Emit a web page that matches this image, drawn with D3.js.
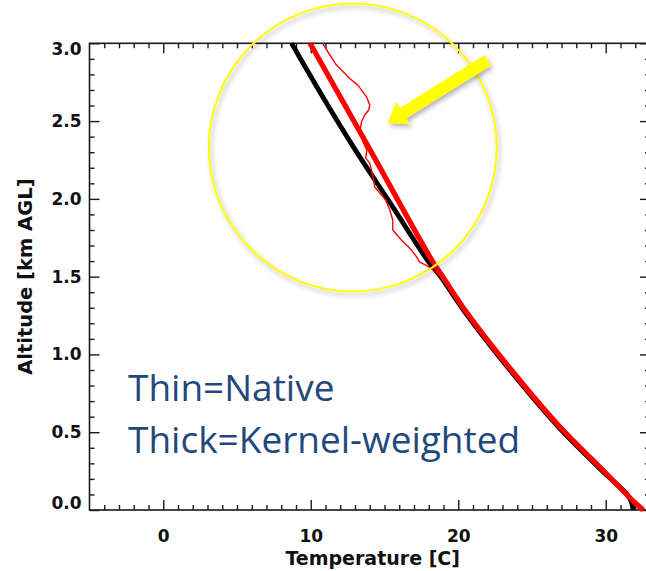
<!DOCTYPE html>
<html>
<head>
<meta charset="utf-8">
<script src="https://cdn.jsdelivr.net/npm/d3@7"></script>
<style>
  body { margin: 0; background: #fff; }
  svg { display: block; }
</style>
</head>
<body>
<div id="chart"></div>
<script>
// temperature profiles, altitude in km AGL and temperature in C

// black thick profile
var blackAlt  = [0.0, 0.08, 0.257, 0.533, 0.9, 1.266, 1.5, 1.607, 1.95, 2.31, 2.65, 3.0];
var blackTemp = [31.85, 31.6, 29.7, 26.8, 23.5, 20.5, 18.8, 17.9, 15.55, 13.05, 10.85, 8.7];

// red thick profile (kernel-weighted)
var thickAlt  = [0.0, 0.045, 0.257, 0.533, 0.9, 1.266, 1.5, 1.607, 2.31, 3.0];
var thickTemp = [32.55, 32.0, 29.8, 26.9, 23.6, 20.6, 18.95, 18.2, 14.05, 9.95];

// red thin profile (native)
var thinAlt  = [0.0, 0.045, 0.257, 0.533, 0.9, 1.266, 1.5, 1.53, 1.568, 1.594, 1.628, 1.671, 1.735,
                1.8, 1.864, 1.928, 1.992, 2.076, 2.153, 2.23, 2.262, 2.314, 2.367, 2.453, 2.496,
                2.539, 2.571, 2.603, 2.656, 2.731, 2.774, 2.828, 2.86, 2.946, 3.0];
var thinTemp = [32.5, 32.0, 29.75, 26.85, 23.55, 20.55, 18.85, 18.47, 17.93, 17.39, 17.17, 16.83, 16.15,
                15.56, 15.56, 15.36, 15.08, 14.34, 14.2, 14.0, 13.73, 13.8, 13.53, 13.37, 13.44,
                13.66, 13.93, 14.0, 13.78, 13.19, 12.64, 12.08, 11.74, 11.15, 10.81];

// axis ticks
var xMajor = [0, 10, 20, 30];
var yMajor = [0, 0.5, 1.0, 1.5, 2.0, 2.5, 3.0];

// annotation (data units)
var circleCenter = [12.85, 2.33];
var circleRadiusT = 9.76;
var arrowTail = [22.0, 2.89];
var arrowTip = [15.22, 2.49];
var noteLines = ["Thin=Native", "Thick=Kernel-weighted"];

var svgWidth = 646;
var svgHeight = 571;

var margin = { top: 43.3, left: 89.5, bottom: 61, right: -4 };
var width = svgWidth - margin.left - margin.right;
var height = svgHeight - margin.top - margin.bottom;

var svg = d3.select("#chart")
    .append("svg")
    .attr("width", svgWidth)
    .attr("height", svgHeight);

var defs = svg.append("defs");
var shadow = defs.append("filter")
    .attr("id", "shadow")
    .attr("x", "-20%").attr("y", "-20%")
    .attr("width", "140%").attr("height", "140%");
shadow.append("feDropShadow")
    .attr("dx", 2).attr("dy", 3)
    .attr("stdDeviation", 2.5)
    .attr("flood-color", "#000")
    .attr("flood-opacity", 0.3);

var chart = svg.append("g")
    .attr("transform", `translate(${margin.left}, ${margin.top})`);

// scales
var x = d3.scaleLinear().domain([-5, 33]).range([0, width]);
var y = d3.scaleLinear().domain([0, 3]).range([height, 0]);

var xMinor = d3.range(-4, 34).filter(function(d) { return d % 10 !== 0; });
var yMinor = d3.range(1, 30).map(function(d) { return d / 10; }).filter(function(d) { return Math.round(d * 10) % 5 !== 0; });

function styleAxis(g) {
    g.select(".domain").remove();
    g.selectAll("line").attr("stroke", "#1a1a1a").attr("stroke-width", 1.4);
    g.selectAll("text")
        .attr("fill", "#111")
        .style("font-family", "'DejaVu Sans', sans-serif")
        .style("font-weight", "bold")
        .style("font-size", "17px");
}

// bottom axis
chart.append("g")
    .attr("transform", `translate(0, ${height})`)
    .call(d3.axisBottom(x).tickValues(xMinor).tickSize(-5).tickFormat(""))
    .call(styleAxis);
chart.append("g")
    .attr("transform", `translate(0, ${height})`)
    .call(d3.axisBottom(x).tickValues(xMajor).tickSize(-10).tickPadding(20).tickFormat(d3.format("d")))
    .call(styleAxis);

// top axis
chart.append("g")
    .call(d3.axisTop(x).tickValues(xMinor).tickSize(-5).tickFormat(""))
    .call(styleAxis);
chart.append("g")
    .call(d3.axisTop(x).tickValues(xMajor).tickSize(-10).tickFormat(""))
    .call(styleAxis);

// left axis
chart.append("g")
    .call(d3.axisLeft(y).tickValues(yMinor).tickSize(-5).tickFormat(""))
    .call(styleAxis);
var yAxisG = chart.append("g")
    .call(d3.axisLeft(y).tickValues(yMajor).tickSize(-10).tickPadding(8).tickFormat(d3.format(".1f")))
    .call(styleAxis);
// end labels pulled inside the frame
yAxisG.selectAll(".tick text")
    .attr("transform", function(d) {
        if (d === 3) return "translate(0, 6)";
        if (d === 0) return "translate(0, -7)";
        return null;
    });

// right axis
chart.append("g")
    .attr("transform", `translate(${width}, 0)`)
    .call(d3.axisRight(y).tickValues(yMinor).tickSize(-5).tickFormat(""))
    .call(styleAxis);
chart.append("g")
    .attr("transform", `translate(${width}, 0)`)
    .call(d3.axisRight(y).tickValues(yMajor).tickSize(-10).tickFormat(""))
    .call(styleAxis);

// frame
chart.append("rect")
    .attr("width", width)
    .attr("height", height)
    .attr("fill", "none")
    .attr("stroke", "#1a1a1a")
    .attr("stroke-width", 1.6);

// profile lines
function profile(alts, temps) {
    return alts.map(function(a, i) { return { alt: a, temp: temps[i] }; });
}

var smoothLine = d3.line()
    .x(function(d) { return x(d.temp); })
    .y(function(d) { return y(d.alt); })
    .curve(d3.curveCatmullRom);

var rawLine = d3.line()
    .x(function(d) { return x(d.temp); })
    .y(function(d) { return y(d.alt); });

chart.append("path")
    .datum(profile(blackAlt, blackTemp))
    .attr("d", smoothLine)
    .attr("fill", "none")
    .attr("stroke", "#000")
    .attr("stroke-width", 4.8);

chart.append("path")
    .datum(profile(thinAlt, thinTemp))
    .attr("d", rawLine)
    .attr("fill", "none")
    .attr("stroke", "#ff0000")
    .attr("stroke-width", 1.4)
    .attr("stroke-linejoin", "round");

chart.append("path")
    .datum(profile(thickAlt, thickTemp))
    .attr("d", smoothLine)
    .attr("fill", "none")
    .attr("stroke", "#ff0000")
    .attr("stroke-width", 5.2);

// axis titles
chart.append("text")
    .attr("x", x(14.2))
    .attr("y", height + 55)
    .attr("text-anchor", "middle")
    .style("font-family", "'DejaVu Sans', sans-serif")
    .style("font-weight", "bold")
    .style("font-size", "19px")
    .attr("fill", "#111")
    .text("Temperature [C]");

chart.append("text")
    .attr("transform", `translate(${32 - margin.left}, ${y(1.5)}) rotate(-90)`)
    .attr("text-anchor", "middle")
    .style("font-family", "'DejaVu Sans', sans-serif")
    .style("font-weight", "bold")
    .style("font-size", "19.5px")
    .attr("fill", "#111")
    .text("Altitude [km AGL]");

// yellow circle
var r = x(circleRadiusT) - x(0);
chart.append("circle")
    .attr("cx", x(circleCenter[0]))
    .attr("cy", y(circleCenter[1]))
    .attr("r", r)
    .attr("fill", "none")
    .attr("stroke", "#ffff00")
    .attr("stroke-width", 2)
    .attr("filter", "url(#shadow)");

// yellow arrow
var tx = x(arrowTail[0]), ty = y(arrowTail[1]);
var hx = x(arrowTip[0]), hy = y(arrowTip[1]);
var len = Math.hypot(hx - tx, hy - ty);
var ux = (hx - tx) / len, uy = (hy - ty) / len;
var px = -uy, py = ux;
var shaftW = 12, headW = 26, headL = 18;
var bx = hx - ux * headL, by = hy - uy * headL;
var arrowPts = [
    [tx + px * shaftW / 2, ty + py * shaftW / 2],
    [bx + px * shaftW / 2, by + py * shaftW / 2],
    [bx + px * headW / 2, by + py * headW / 2],
    [hx, hy],
    [bx - px * headW / 2, by - py * headW / 2],
    [bx - px * shaftW / 2, by - py * shaftW / 2],
    [tx - px * shaftW / 2, ty - py * shaftW / 2]
];
chart.append("polygon")
    .attr("points", arrowPts.map(function(p) { return p.join(","); }).join(" "))
    .attr("fill", "#ffff00")
    .attr("filter", "url(#shadow)");

// note text
chart.selectAll(".note")
    .data(noteLines)
    .enter()
    .append("text")
    .attr("class", "note")
    .attr("x", 128 - margin.left)
    .attr("y", function(d, i) { return 401.5 - margin.top + i * 51.5; })
    .style("font-family", "'Open Sans', sans-serif")
    .style("font-size", "37px")
    .attr("fill", "#1f497d")
    .text(function(d) { return d; });
</script>
</body>
</html>
